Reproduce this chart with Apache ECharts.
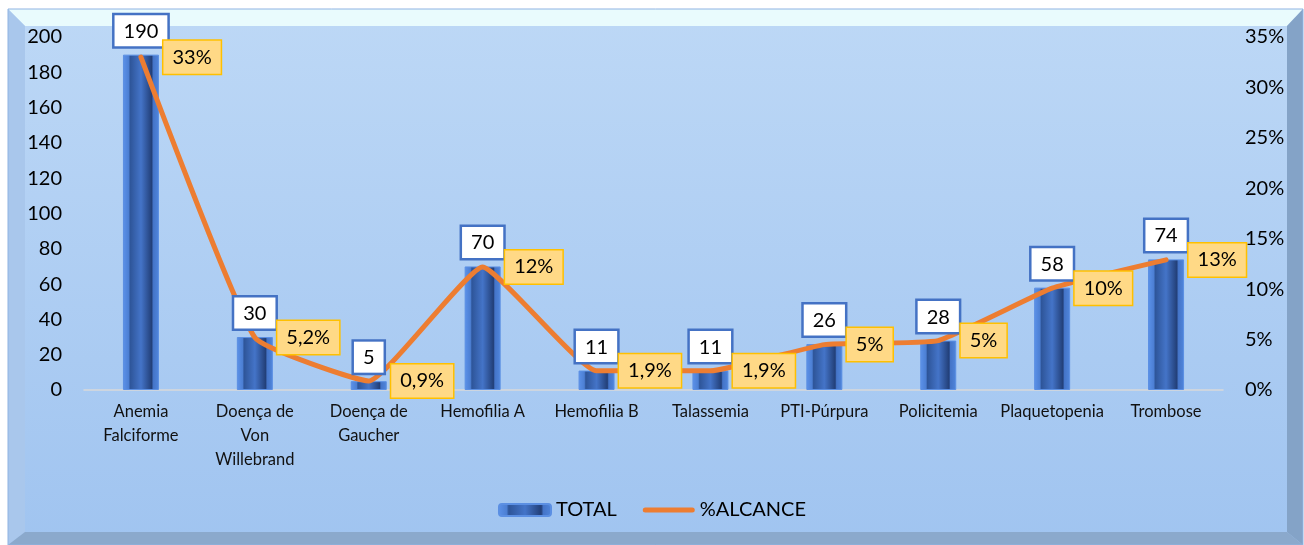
<!DOCTYPE html>
<html>
<head>
<meta charset="utf-8">
<script src="https://cdn.jsdelivr.net/npm/echarts@6/dist/echarts.min.js"></script>
<style>
    html, body { margin: 0; padding: 0; background: #ffffff; }
    #chart { width: 1304px; height: 545px; }
</style>
</head>
<body>
<div id="chart"></div>
<script>
    // Data
    const categories = ['Anemia\nFalciforme', 'Doença de\nVon\nWillebrand', 'Doença de\nGaucher', 'Hemofilia A',
        'Hemofilia B', 'Talassemia', 'PTI-Púrpura', 'Policitemia', 'Plaquetopenia', 'Trombose'];
    const totalValues = [190, 30, 5, 70, 11, 11, 26, 28, 58, 74];
    const alcanceValues = [33.0, 5.2, 0.9, 12.2, 1.9, 1.9, 4.5, 4.9, 10.1, 12.9];
    const alcanceLabels = ['33%', '5,2%', '0,9%', '12%', '1,9%', '1,9%', '5%', '5%', '10%', '13%'];

    const FONT = 'Lato';

    const chart = echarts.init(document.getElementById('chart'));

    // Bevelled frame behind the plot
    const frame = [
        { type: 'rect', shape: { x: 8, y: 9, width: 1295, height: 536 },
          style: { fill: new echarts.graphic.LinearGradient(0, 0, 0, 1, [
              { offset: 0, color: '#bdd8f6' }, { offset: 1, color: '#a0c4f0' }]) } },
        { type: 'polygon', shape: { points: [[8, 9], [1303, 9], [1287, 26], [25, 26]] }, style: { fill: '#e9fbfd' } },
        { type: 'polygon', shape: { points: [[8, 9], [25, 26], [25, 532], [8, 545]] }, style: { fill: '#a9c7ec' } },
        { type: 'polygon', shape: { points: [[1303, 9], [1303, 545], [1287, 532], [1287, 26]] }, style: { fill: '#84a3c7' } },
        { type: 'polygon', shape: { points: [[8, 545], [25, 532], [1287, 532], [1303, 545]] }, style: { fill: '#8ba9cc' } },
        { type: 'rect', shape: { x: 8, y: 9, width: 1295, height: 536 },
          style: { fill: 'none', stroke: '#8fb3e2', lineWidth: 1 } }
    ];

    const barGradient = new echarts.graphic.LinearGradient(0, 0, 1, 0, [
        { offset: 0, color: '#5c92ea' },
        { offset: 0.16, color: '#4c7fd3' },
        { offset: 0.2, color: '#2e5599' },
        { offset: 0.5, color: '#4474c8' },
        { offset: 0.8, color: '#223f78' },
        { offset: 0.84, color: '#4474c8' },
        { offset: 1, color: '#5086dc' }
    ]);

    const boxLabel = {
        show: true,
        fontSize: 20,
        color: '#000',
        fontFamily: FONT
    };

    const option = {
        animation: false,
        textStyle: { fontFamily: FONT },
        graphic: { elements: frame.map(e => Object.assign({ z: -10, silent: true }, e)) },
        grid: { left: 84, right: 81, top: 37, bottom: 155 },
        legend: {
            bottom: 20,
            left: 'center',
            itemGap: 26,
            itemWidth: 52,
            itemHeight: 12,
            textStyle: { fontFamily: FONT, fontSize: 20, color: '#000' },
            data: [
                { name: 'TOTAL' },
                { name: '%ALCANCE', icon: 'path://M2.5,0 L49.5,0 A2.5,2.5 0 0 1 49.5,5 L2.5,5 A2.5,2.5 0 0 1 2.5,0 Z' }
            ]
        },
        xAxis: {
            type: 'category',
            data: categories,
            axisLine: { lineStyle: { color: '#d9d9d9', width: 1.5 } },
            axisTick: { show: false },
            axisLabel: { interval: 0, fontSize: 16.5, lineHeight: 24, color: '#111', margin: 10, fontFamily: FONT }
        },
        yAxis: [
            {
                type: 'value', min: 0, max: 200, interval: 20,
                splitLine: { show: false },
                axisLine: { show: false },
                axisLabel: { fontSize: 20, color: '#000', margin: 22, fontFamily: FONT }
            },
            {
                type: 'value', min: 0, max: 35, interval: 5,
                splitLine: { show: false },
                axisLine: { show: false },
                axisLabel: { fontSize: 20, color: '#000', margin: 22, fontFamily: FONT,
                    formatter: v => v + '%' }
            }
        ],
        series: [
            {
                name: 'TOTAL',
                type: 'bar',
                data: totalValues,
                barWidth: 36,
                itemStyle: { color: barGradient, borderColor: '#5b8fe3', borderWidth: 1 },
                z: 2
            },
            {
                name: '%ALCANCE',
                type: 'line',
                yAxisIndex: 1,
                data: alcanceValues,
                smooth: 0.12,
                symbol: 'none',
                lineStyle: { color: '#ed7d31', width: 5, cap: 'round' },
                itemStyle: { color: '#ed7d31' },
                z: 3
            },
            // label carriers, drawn above the bars and the line
            {
                name: 'totalLabels',
                type: 'scatter',
                data: totalValues,
                symbolSize: 1,
                itemStyle: { color: 'rgba(0,0,0,0)', opacity: 1 },
                silent: true,
                label: Object.assign({}, boxLabel, {
                    position: 'top',
                    distance: 8,
                    backgroundColor: '#ffffff',
                    borderColor: '#4472c4',
                    borderWidth: 2.5,
                    padding: [6, 9, 5, 9]
                }),
                z: 5
            },
            {
                name: 'alcanceLabels',
                type: 'scatter',
                yAxisIndex: 1,
                data: alcanceValues,
                symbolSize: 1,
                itemStyle: { color: 'rgba(0,0,0,0)', opacity: 1 },
                silent: true,
                label: Object.assign({}, boxLabel, {
                    position: 'right',
                    distance: 22,
                    backgroundColor: '#ffd986',
                    borderColor: '#ffc000',
                    borderWidth: 1.5,
                    padding: [7, 9, 6, 9],
                    formatter: p => alcanceLabels[p.dataIndex]
                }),
                z: 6
            }
        ]
    };
    chart.setOption(option);
</script>
</body>
</html>
